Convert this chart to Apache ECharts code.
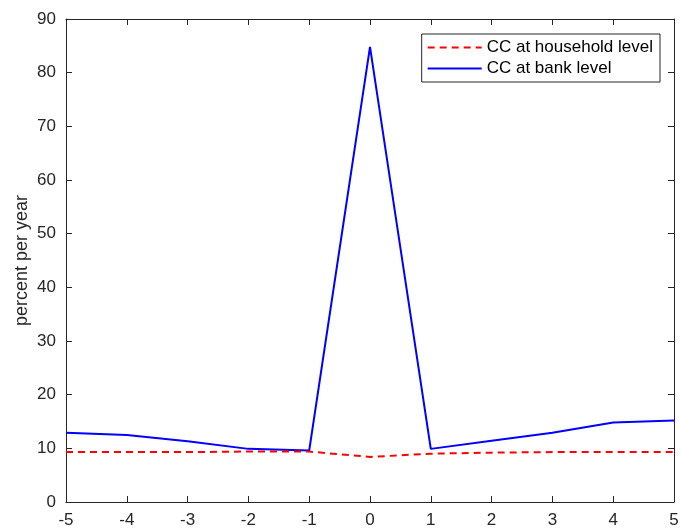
<!DOCTYPE html>
<html>
<head>
<meta charset="utf-8">
<script src="https://cdn.jsdelivr.net/npm/echarts@6/dist/echarts.min.js"></script>
<style>
  html, body { margin: 0; padding: 0; background: #fff; }
  #chart { width: 681px; height: 529px; }
</style>
</head>
<body>
<div id="chart"></div>
<script>
// x positions (years around the event)
const xValues = [-5, -4, -3, -2, -1, 0, 1, 2, 3, 4, 5]
// percent per year
const householdCC = [9.3, 9.3, 9.3, 9.4, 9.4, 8.4, 9.0, 9.2, 9.3, 9.3, 9.3]
const bankCC = [12.9, 12.5, 11.3, 9.9, 9.6, 84.8, 9.9, 11.4, 12.9, 14.8, 15.2]
const seriesNames = ['CC at household level', 'CC at bank level']

const axisColor = '#262626'
const font = 'Liberation Sans, Arial, sans-serif'

function pairs(ys) {
  return xValues.map((x, i) => [x, ys[i]])
}

const chart = echarts.init(document.getElementById('chart'))

const baseX = {
  type: 'value', min: -5, max: 5, interval: 1,
  axisLine: { show: true, onZero: false, lineStyle: { color: axisColor, width: 1 } },
  axisTick: { show: true, inside: true, length: 6, lineStyle: { color: axisColor } },
  splitLine: { show: false }
}
const baseY = {
  type: 'value', min: 0, max: 90, interval: 10,
  axisLine: { show: true, onZero: false, lineStyle: { color: axisColor, width: 1 } },
  axisTick: { show: true, inside: true, length: 6, lineStyle: { color: axisColor } },
  splitLine: { show: false }
}

chart.setOption({
  animation: false,
  backgroundColor: '#fff',
  grid: { left: 66, right: 7, top: 19, bottom: 27, containLabel: false, outerBoundsMode: 'none' },
  legend: {
    data: seriesNames,
    orient: 'vertical',
    right: 21,
    top: 34,
    itemWidth: 54,
    itemHeight: 10,
    itemGap: 4,
    padding: [5, 7, 5, 5],
    borderColor: axisColor,
    borderWidth: 1,
    backgroundColor: '#fff',
    itemStyle: { opacity: 0 },
    textStyle: { fontFamily: font, fontSize: 17, color: '#000' }
  },
  xAxis: [
    Object.assign({}, baseX, {
      position: 'bottom',
      axisLabel: { fontFamily: font, fontSize: 17, color: axisColor, margin: 10 }
    }),
    Object.assign({}, baseX, { position: 'top', axisLabel: { show: false } })
  ],
  yAxis: [
    Object.assign({}, baseY, {
      position: 'left',
      name: 'percent per year',
      nameLocation: 'middle',
      nameGap: 35,
      nameMoveOverlap: false,
      nameTextStyle: { fontFamily: font, fontSize: 18, color: axisColor },
      axisLabel: { fontFamily: font, fontSize: 17, color: axisColor, margin: 10 }
    }),
    Object.assign({}, baseY, { position: 'right', axisLabel: { show: false } })
  ],
  series: [
    {
      name: seriesNames[0],
      type: 'line',
      data: pairs(householdCC),
      symbol: 'none',
      lineStyle: { color: '#ff0000', width: 2, type: [7, 5] },
      itemStyle: { color: '#ff0000' },
      z: 3
    },
    {
      name: seriesNames[1],
      type: 'line',
      data: pairs(bankCC),
      symbol: 'none',
      lineStyle: { color: '#0000ff', width: 2 },
      itemStyle: { color: '#0000ff' },
      z: 2
    }
  ]
})
</script>
</body>
</html>
